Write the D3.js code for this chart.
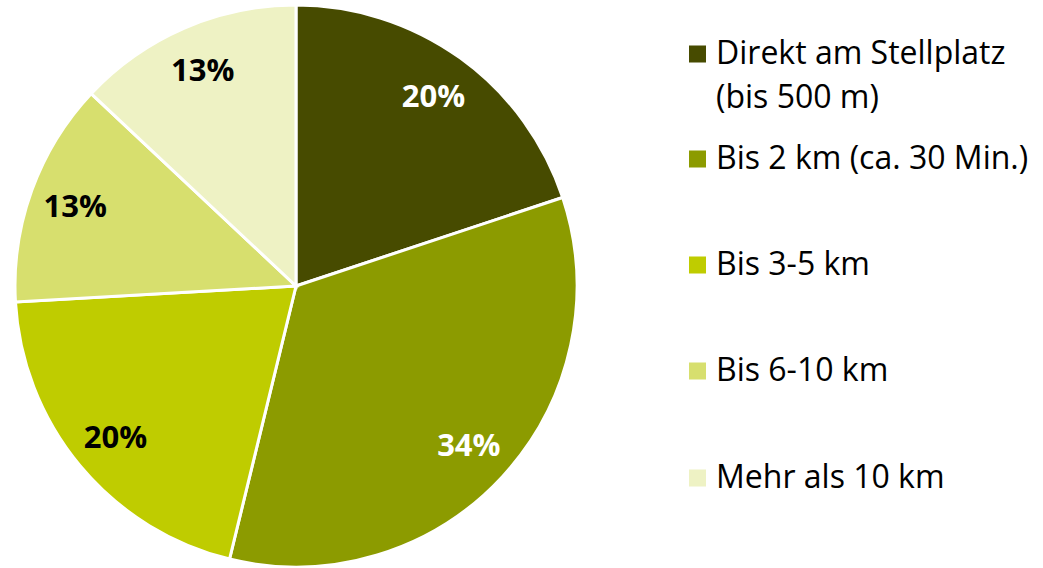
<!DOCTYPE html>
<html>
<head>
<meta charset="utf-8">
<script src="https://cdn.jsdelivr.net/npm/d3@7"></script>
<style>
  body { margin: 0; background: #fff; }
  svg text { font-family: "Open Sans", sans-serif; }
</style>
</head>
<body>
<svg id="chart" width="1043" height="568"></svg>
<script>
var categories = ["Direkt am Stellplatz|(bis 500 m)", "Bis 2 km (ca. 30 Min.)", "Bis 3-5 km", "Bis 6-10 km", "Mehr als 10 km"];
var shares = [19.9, 33.9, 20.3, 12.9, 13.0];
var labels = ["20%", "34%", "20%", "13%", "13%"];
var colors = ["#474b00", "#8c9b00", "#bfcc00", "#d7df6e", "#eef2c4"];
var labelColors = ["#fff", "#fff", "#000", "#000", "#000"];
var legendY = [54, 159, 265, 371, 478];

var svg = d3.select("#chart");
var cx = 296, cy = 286, radius = 281;

var pie = d3.pie().sort(null).value(function(d){ return d; });
var arc = d3.arc().innerRadius(0).outerRadius(radius);
var labelArc = d3.arc().innerRadius(235).outerRadius(235);

var g = svg.append("g").attr("transform", "translate(" + cx + "," + cy + ")");
var arcs = pie(shares);

g.selectAll("path")
  .data(arcs)
  .enter().append("path")
  .attr("d", arc)
  .attr("fill", function(d, i){ return colors[i]; })
  .attr("stroke", "#fff")
  .attr("stroke-width", 3);

// value labels
g.selectAll("text.lbl")
  .data(arcs)
  .enter().append("text")
  .attr("class", "lbl")
  .attr("transform", function(d){ return "translate(" + labelArc.centroid(d) + ")"; })
  .attr("text-anchor", "middle")
  .attr("dy", "0.36em")
  .attr("font-size", 31)
  .attr("font-weight", "bold")
  .attr("fill", function(d, i){ return labelColors[i]; })
  .text(function(d, i){ return labels[i]; });

var legend = svg.append("g");
categories.forEach(function(c, i){
  var item = legend.append("g").attr("transform", "translate(689," + legendY[i] + ")");
  item.append("rect")
    .attr("x", 0).attr("y", -8.5)
    .attr("width", 17).attr("height", 17)
    .attr("fill", colors[i]);
  var lines = c.split("|");
  lines.forEach(function(line, j){
    item.append("text")
      .attr("x", 27)
      .attr("y", 10 + j * 44)
      .attr("font-size", 32)
      .attr("fill", "#000")
      .text(line);
  });
});
</script>
</body>
</html>
